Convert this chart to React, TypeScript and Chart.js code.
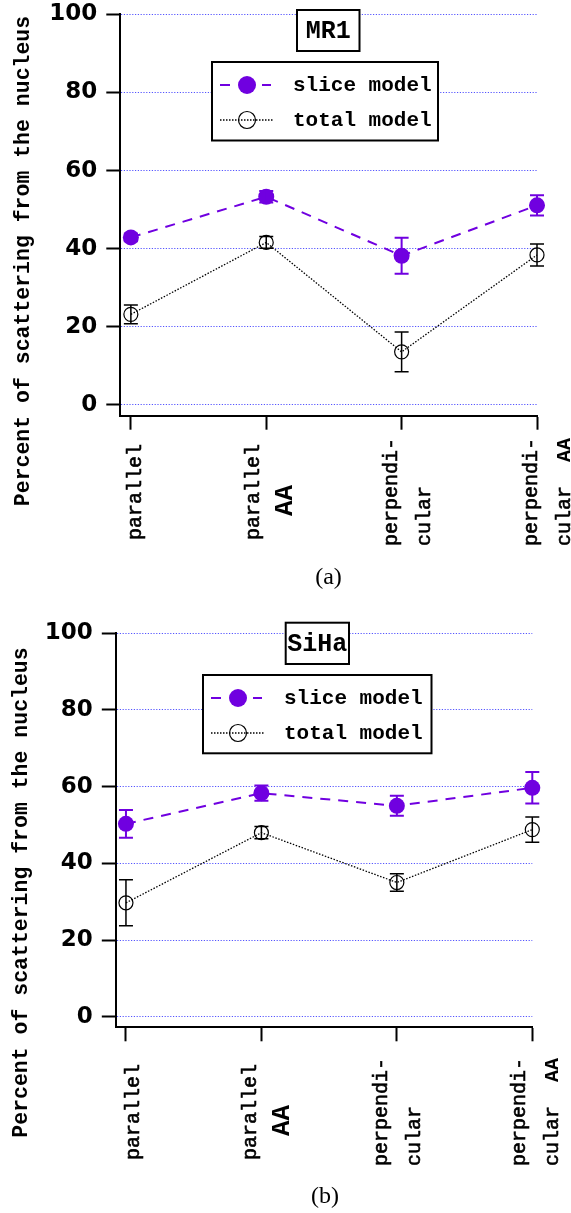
import React, { useEffect, useRef } from "react";
import { Chart, registerables } from "chart.js";

Chart.register(...registerables);

// ---------- data ----------
const categories = ["parallel", "parallel AA", "perpendicular", "perpendicular AA"];
const categoryIndex = [0, 1, 2, 3];
const yTickValues = [0, 20, 40, 60, 80, 100];
const seriesNames = ["slice model", "total model"];
const panelTitles = ["MR1", "SiHa"];
const panelCaptions = ["(a)", "(b)"];
const yAxisTitle = "Percent of scattering from the nucleus";

const mr1Slice = [42.9, 53.3, 38.2, 51.1];
const mr1SliceErr = [1.0, 1.5, 4.6, 2.6];
const mr1Total = [23.2, 41.6, 13.6, 38.4];
const mr1TotalErr = [2.4, 1.5, 5.1, 2.8];

const sihaSlice = [50.3, 58.3, 55.0, 59.7];
const sihaSliceErr = [3.6, 2.0, 2.6, 4.1];
const sihaTotal = [29.7, 48.0, 35.0, 48.8];
const sihaTotalErr = [6.0, 1.6, 2.3, 3.3];

type Seg = { text: string; style?: "bold" | "big" };
const xTickLabelLines: Seg[][][] = [
  [[{ text: "parallel" }]],
  [[{ text: "parallel" }], [{ text: "  " }, { text: "AA", style: "big" }]],
  [[{ text: "perpendi-" }], [{ text: "cular" }]],
  [[{ text: "perpendi-" }], [{ text: "cular  " }, { text: "AA", style: "bold" }]],
];

// ---------- styles / layout ----------
const PURPLE = "#7000e0";
const GRID = "rgba(85,85,255,1)";
const MONO = "'Liberation Mono', 'Courier New', monospace";

const LAYOUT = [
  {
    height: 600, axisX: 120.3, plotRight: 537, plotTop: 14.3, xAxisY: 415.7,
    yMin: -2.74, xMin: -0.078,
    titleBox: { x: 297, y: 10, w: 62.5, h: 41 },
    legendBox: { x: 212, y: 62, w: 226, h: 78.5 },
    yTitleX: 28.5, yTitleY: 261, captionX: 328.5, captionY: 577.5,
    labelCenterY: 492, labelShift: [-1, -1, 1, 6],
  },
  {
    height: 613, axisX: 115.8, plotRight: 532.3, plotTop: 33.3, xAxisY: 427.3,
    yMin: -2.76, xMin: -0.075,
    titleBox: { x: 285.7, y: 22.7, w: 63.3, h: 41.3 },
    legendBox: { x: 203, y: 75, w: 228.5, h: 78.3 },
    yTitleX: 27.3, yTitleY: 292.5, captionX: 325, captionY: 597,
    labelCenterY: 512, labelShift: [2, 1, -4, -1],
  },
];

const PANEL_DATA = [
  { slice: mr1Slice, sliceErr: mr1SliceErr, total: mr1Total, totalErr: mr1TotalErr },
  { slice: sihaSlice, sliceErr: sihaSliceErr, total: sihaTotal, totalErr: sihaTotalErr },
];

function segFont(s: Seg) {
  if (s.style === "big") return `bold 26px ${MONO}`;
  if (s.style === "bold") return `bold 20px ${MONO}`;
  return `20px ${MONO}`;
}

function Panel({ idx }: { idx: number }) {
  const ref = useRef<HTMLCanvasElement>(null);
  const L = LAYOUT[idx];
  const D = PANEL_DATA[idx];

  useEffect(() => {
    const canvas = ref.current;
    if (!canvas) return;
    const series = [
      { values: D.total, err: D.totalErr, color: "#000", errWidth: 1.5 },
      { values: D.slice, err: D.sliceErr, color: PURPLE, errWidth: 2 },
    ];

    const decor = {
      id: "panelDecor",
      afterDatasetsDraw(chart: any) {
        const ctx = chart.ctx;
        const ys = chart.scales.y;
        series.forEach((s, di) => {
          const meta = chart.getDatasetMeta(di);
          ctx.save();
          ctx.strokeStyle = s.color;
          ctx.lineWidth = s.errWidth;
          ctx.setLineDash([]);
          meta.data.forEach((pt: any, i: number) => {
            const x = pt.x;
            const y1 = ys.getPixelForValue(s.values[i] + s.err[i]);
            const y2 = ys.getPixelForValue(s.values[i] - s.err[i]);
            ctx.beginPath();
            ctx.moveTo(x, y1); ctx.lineTo(x, y2);
            ctx.moveTo(x - 7, y1); ctx.lineTo(x + 7, y1);
            ctx.moveTo(x - 7, y2); ctx.lineTo(x + 7, y2);
            ctx.stroke();
          });
          ctx.restore();
        });
      },
      afterDraw(chart: any) {
        const ctx = chart.ctx;
        const xs = chart.scales.x;
        ctx.save();
        ctx.fillStyle = "#000";
        ctx.strokeStyle = "#000";
        ctx.setLineDash([]);

        // title box
        const tb = L.titleBox;
        ctx.fillStyle = "#fff";
        ctx.fillRect(tb.x, tb.y, tb.w, tb.h);
        ctx.lineWidth = 2;
        ctx.strokeRect(tb.x, tb.y, tb.w, tb.h);
        ctx.fillStyle = "#000";
        ctx.font = `bold 25px ${MONO}`;
        ctx.textAlign = "center";
        ctx.textBaseline = "middle";
        ctx.fillText(panelTitles[idx], tb.x + tb.w / 2, tb.y + tb.h / 2 + 1);

        // legend box
        const lb = L.legendBox;
        ctx.fillStyle = "#fff";
        ctx.fillRect(lb.x, lb.y, lb.w, lb.h);
        ctx.lineWidth = 2;
        ctx.strokeRect(lb.x, lb.y, lb.w, lb.h);
        const cx = lb.x + 35;
        const r1 = lb.y + 23;
        const r2 = lb.y + 58;
        ctx.strokeStyle = PURPLE;
        ctx.lineWidth = 2;
        ctx.beginPath();
        ctx.moveTo(cx - 27, r1); ctx.lineTo(cx - 17, r1);
        ctx.moveTo(cx + 15, r1); ctx.lineTo(cx + 24, r1);
        ctx.stroke();
        ctx.fillStyle = PURPLE;
        ctx.beginPath(); ctx.arc(cx, r1, 9, 0, Math.PI * 2); ctx.fill();
        ctx.strokeStyle = "#000";
        ctx.lineWidth = 1.3;
        ctx.setLineDash([1.5, 1.5]);
        ctx.beginPath(); ctx.moveTo(cx - 27, r2); ctx.lineTo(cx + 27, r2); ctx.stroke();
        ctx.setLineDash([]);
        ctx.lineWidth = 1.2;
        ctx.beginPath(); ctx.arc(cx, r2, 8.5, 0, Math.PI * 2); ctx.stroke();
        ctx.fillStyle = "#000";
        ctx.font = `bold 21px ${MONO}`;
        ctx.textAlign = "left";
        ctx.textBaseline = "middle";
        ctx.fillText(seriesNames[0], lb.x + 81, r1 + 1);
        ctx.fillText(seriesNames[1], lb.x + 81, r2 + 1);

        // y axis title
        ctx.save();
        ctx.translate(L.yTitleX, L.yTitleY);
        ctx.rotate(-Math.PI / 2);
        ctx.font = `bold 21.5px ${MONO}`;
        ctx.textAlign = "center";
        ctx.textBaseline = "alphabetic";
        ctx.fillText(yAxisTitle, 0, 0);
        ctx.restore();

        // x tick labels
        ctx.strokeStyle = "#000";
        ctx.lineWidth = 0.6;
        categoryIndex.forEach((ci, i) => {
          const tickX = xs.getPixelForValue(ci);
          const lines = xTickLabelLines[i];
          const n = lines.length;
          const widths = lines.map((segs) =>
            segs.reduce((w, s) => {
              ctx.font = segFont(s);
              return w + ctx.measureText(s.text).width;
            }, 0)
          );
          const block = Math.max(...widths);
          const startY = L.labelCenterY + block / 2;
          lines.forEach((segs, j) => {
            const bx = n === 1 ? tickX + 11 + L.labelShift[i] : tickX - 6 + j * 33 + L.labelShift[i];
            ctx.save();
            ctx.translate(bx, startY);
            ctx.rotate(-Math.PI / 2);
            ctx.textAlign = "left";
            ctx.textBaseline = "alphabetic";
            let off = 0;
            segs.forEach((s) => {
              ctx.font = segFont(s);
              ctx.fillText(s.text, off, 0);
              if (!s.style) ctx.strokeText(s.text, off, 0);
              off += ctx.measureText(s.text).width;
            });
            ctx.restore();
          });
        });

        // caption
        ctx.font = `24px 'Liberation Serif', 'DejaVu Serif', serif`;
        ctx.textAlign = "center";
        ctx.textBaseline = "middle";
        ctx.fillText(panelCaptions[idx], L.captionX, L.captionY);
        ctx.restore();
      },
    };

    const chart = new Chart(canvas, {
      type: "line",
      data: {
        datasets: [
          {
            label: seriesNames[1],
            data: categoryIndex.map((c, i) => ({ x: c, y: D.total[i] })),
            borderColor: "#000",
            borderWidth: 1.3,
            borderDash: [1.5, 1.6],
            pointRadius: 7,
            pointBackgroundColor: "rgba(0,0,0,0)",
            pointBorderColor: "#000",
            pointBorderWidth: 1.2,
            clip: false,
          } as any,
          {
            label: seriesNames[0],
            data: categoryIndex.map((c, i) => ({ x: c, y: D.slice[i] })),
            borderColor: PURPLE,
            borderWidth: 2,
            borderDash: [10, 8],
            pointRadius: 8,
            pointBackgroundColor: PURPLE,
            pointBorderColor: PURPLE,
            pointBorderWidth: 0,
            clip: false,
          } as any,
        ],
      },
      options: {
        responsive: false,
        animation: false,
        devicePixelRatio: 1,
        layout: { padding: { left: 0, top: L.plotTop, right: 571 - L.plotRight, bottom: 0 } },
        plugins: { legend: { display: false }, tooltip: { enabled: false }, title: { display: false } },
        scales: {
          x: {
            type: "linear",
            min: L.xMin,
            max: 3,
            afterBuildTicks: (s: any) => { s.ticks = categoryIndex.map((v) => ({ value: v })); },
            afterFit: (s: any) => {
              s.height = L.height - L.xAxisY;
              s.paddingLeft = 0; s.paddingRight = 0;
            },
            ticks: { display: false },
            grid: { display: true, drawOnChartArea: false, drawTicks: true, tickLength: 14, tickColor: "#000", tickWidth: 2 },
            border: { display: true, color: "#000", width: 2 },
          },
          y: {
            type: "linear",
            min: L.yMin,
            max: 100,
            afterBuildTicks: (s: any) => { s.ticks = yTickValues.map((v) => ({ value: v })); },
            afterFit: (s: any) => {
              s.width = L.axisX;
              s.paddingTop = 0; s.paddingBottom = 0;
            },
            ticks: {
              color: "#000",
              padding: 9,
              font: { family: "'DejaVu Sans', sans-serif", weight: "bold", size: 23, lineHeight: 0.6 },
            },
            grid: {
              display: true, drawOnChartArea: true, color: GRID, lineWidth: 1,
              drawTicks: true, tickLength: 14, tickColor: "#000", tickWidth: 2, tickBorderDash: [],
            },
            border: { display: true, color: "#000", width: 2, dash: [1.2, 1.6] },
          },
        },
      } as any,
      plugins: [decor],
    });
    return () => chart.destroy();
  }, []);

  return (
    <canvas
      ref={ref}
      width={571}
      height={L.height}
      style={{ display: "block", width: 571, height: L.height }}
    />
  );
}

export default function App() {
  return (
    <div style={{ position: "absolute", left: 0, top: 0, width: 571, height: 1213, background: "#fff" }}>
      <Panel idx={0} />
      <Panel idx={1} />
    </div>
  );
}
